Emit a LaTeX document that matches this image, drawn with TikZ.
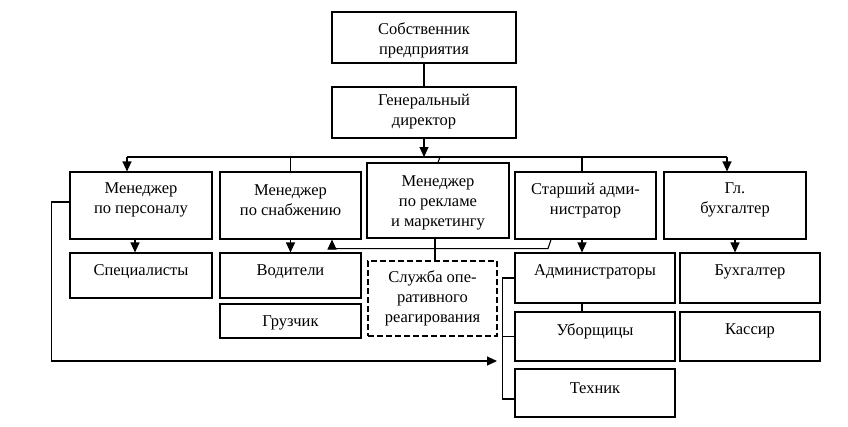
\documentclass[tikz,border=0pt]{standalone}
\usepackage{fontspec}
\setmainfont{Liberation Serif}
\usetikzlibrary{arrows.meta}
\tikzset{
  box/.style={draw, line width=1.1pt, inner sep=0pt, rectangle},
  dbox/.style={box, dashed, dash pattern=on 6pt off 3pt},
  txt/.style={inner sep=0pt, align=center, font=\fontsize{16.5}{20}\selectfont},
  conn/.style={line width=1.1pt},
  arr/.style={conn, -{Triangle[width=9pt,length=10pt]}},
}
\begin{document}
\begin{tikzpicture}[x=1pt,y=-1pt]
\useasboundingbox (0,0) rectangle (848,426);
% boxes
\node[box, minimum width=184pt, minimum height=51pt] (own) at (424,37.5) {};
\node[box, minimum width=184pt, minimum height=51pt] (gd) at (424,112.5) {};
\node[box, minimum width=142pt, minimum height=67pt] (mp) at (141,205.5) {};
\node[box, minimum width=141pt, minimum height=67pt] (ms) at (290.5,205.5) {};
\node[box, minimum width=142pt, minimum height=75pt] (mr) at (438,200.5) {};
\node[box, minimum width=141pt, minimum height=67pt] (sa) at (585.5,205.5) {};
\node[box, minimum width=142pt, minimum height=67pt] (gb) at (735,205.5) {};
\node[box, minimum width=142pt, minimum height=45pt] (sp) at (141,275.5) {};
\node[box, minimum width=141pt, minimum height=45pt] (vod) at (290.5,275.5) {};
\node[box, minimum width=141pt, minimum height=34pt] (gr) at (290.5,321) {};
\node[dbox, minimum width=129pt, minimum height=75pt] (sl) at (432.5,298.5) {};
\node[box, minimum width=160pt, minimum height=50pt] (adm) at (595,278) {};
\node[box, minimum width=160pt, minimum height=49pt] (ub) at (595,336.5) {};
\node[box, minimum width=160pt, minimum height=48pt] (teh) at (595,393) {};
\node[box, minimum width=140pt, minimum height=50pt] (bu) at (750,278) {};
\node[box, minimum width=140pt, minimum height=49pt] (ka) at (750,336.5) {};
% texts
\node[txt] (own-t) at (424,40) {Собственник\\предприятия};
\node[txt] (gd-t) at (424,112) {Генеральный\\директор};
\node[txt] (mp-t) at (141,200) {Менеджер\\по персоналу};
\node[txt] (ms-t) at (290.5,200) {Менеджер\\по снабжению};
\node[txt] (mr-t) at (438,203) {Менеджер\\по рекламе\\и маркетингу};
\node[txt] (sa-t) at (585.5,201) {Старший адми-\\нистратор};
\node[txt] (gb-t) at (735,200) {Гл.\\бухгалтер};
\node[txt] (sp-t) at (141,272) {Специалисты};
\node[txt] (vod-t) at (290.5,272) {Водители};
\node[txt] (gr-t) at (290.5,323) {Грузчик};
\node[txt] (sl-t) at (432.5,298) {Служба опе-\\ративного\\реагирования};
\node[txt] (adm-t) at (595,272) {Администраторы};
\node[txt] (ub-t) at (595,331) {Уборщицы};
\node[txt] (teh-t) at (595,388) {Техник};
\node[txt] (bu-t) at (750,272) {Бухгалтер};
\node[txt] (ka-t) at (750,331) {Кассир};
% bus coordinates
\coordinate (busL) at (127,157);
\coordinate (busR) at (727,157);
\coordinate (lc) at (497,361);
% connectors
\draw[conn] (own.south) -- (gd.north);
\draw[arr] (gd.south) -- (gd.south |- busL);
\draw[conn] (busL) -- (busR);
\draw[arr] (busL) -- (busL |- mp.north);
\draw[arr] (busR) -- (busR |- gb.north);
\draw[conn] (ms.north |- busL) -- (ms.north);
\draw[conn] ([xshift=-3.5pt]sa.north |- busL) -- ([xshift=-3.5pt]sa.north);
\draw[conn] ([xshift=2pt]mr.north |- busL) -- (mr.north);
\draw[arr] ([xshift=-6pt]mp.south) -- ([xshift=-6pt]sp.north);
\draw[arr] (ms.south) -- (vod.north);
\draw[arr] ([xshift=-34.5pt]sa.south) -- ++(-3,9) -- ([xshift=41.5pt,yshift=-9pt]ms.south) -- ([xshift=41.5pt]ms.south);
\draw[conn] ([xshift=-3pt]mr.south) -- ([xshift=-3pt]mr.south |- sl.north);
\draw[arr] ([xshift=-3.5pt]sa.south) -- ([xshift=-3.5pt]sa.south |- adm.north);
\draw[conn] ([xshift=-13pt]adm.south) -- ([xshift=-13pt]ub.north);
\draw[conn] (adm.west) -- ++(-12,0) |- ([yshift=-6pt]teh.west);
\draw[conn] (ub.west) -- ++(-12,0);
\draw[arr] ([yshift=3.5pt]mp.west) -- ++(-18,0) |- (lc);
\draw[arr] (gb.south) -- (gb.south |- bu.north);
\end{tikzpicture}
\end{document}
